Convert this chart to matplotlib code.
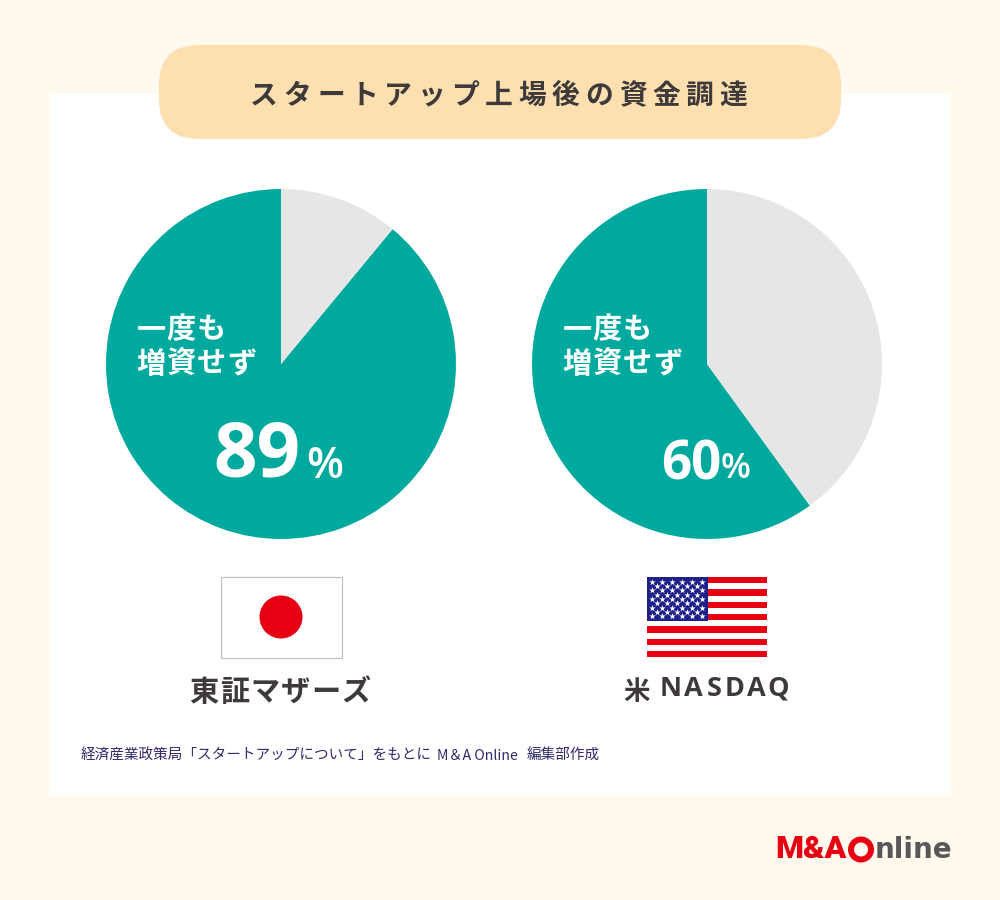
import matplotlib
matplotlib.use("Agg")
import matplotlib.pyplot as plt
from matplotlib.patches import Rectangle, Circle, FancyBboxPatch

plt.rcParams['font.family'] = ['Noto Sans CJK JP', 'DejaVu Sans']

# data
markets = ["東証マザーズ", "米", "NASDAQ"]
no_raise_pct = [89, 60]
other_pct = [11, 40]
title = "スタートアップ上場後の資金調達"
pie_label = ["一度も", "増資せず"]
source_parts = ["経済産業政策局「スタートアップについて」をもとに", "M＆A Online", "編集部作成"]

TEAL = "#00a99d"
GREY = "#e6e6e6"
DARK = "#3e3a39"
RED = "#e60012"
NAVY = "#1d2088"

fig = plt.figure(figsize=(10, 9), dpi=100, facecolor="#fff9ee")
ax = fig.add_axes([0, 0, 1, 1])
ax.set_xlim(0, 1000)
ax.set_ylim(900, 0)
ax.axis("off")


def spaced(a, x, y, s, pitch, **kw):
    # letter spacing, one character at a time
    for i, ch in enumerate(s):
        a.text(x + i * pitch, y, ch, ha="center", va="center", **kw)


# panel and title box
ax.add_patch(Rectangle((50, 94), 900, 701, fc="white", ec="none"))
ax.add_patch(FancyBboxPatch((159, 45), 682, 94,
                            boxstyle="round,pad=0,rounding_size=40", fc="#fedfb0", ec="none"))
spaced(ax, 264, 96, title, 33.5, fontsize=20, fontweight="bold", color=DARK)

# pies
centers = [281, 707]
R = 175
for cx, a, b in zip(centers, no_raise_pct, other_pct):
    pie_ax = fig.add_axes([(cx - R) / 1000, 1 - (364 + R) / 900, 2 * R / 1000, 2 * R / 900])
    pie_ax.pie([a, b], colors=[TEAL, GREY], startangle=90, counterclock=True, radius=1.0,
               wedgeprops={"linewidth": 0})
    pie_ax.set_xlim(-1, 1)
    pie_ax.set_ylim(-1, 1)
    pie_ax.patch.set_alpha(0)

top = fig.add_axes([0, 0, 1, 1], zorder=5)
top.set_xlim(0, 1000)
top.set_ylim(900, 0)
top.axis("off")
top.patch.set_alpha(0)

for cx in centers:
    spaced(top, cx - 130, 329, pie_label[0], 30.2, fontsize=21, fontweight="bold", color="white")
    spaced(top, cx - 130, 364, pie_label[1], 30.2, fontsize=21, fontweight="bold", color="white")

num_font = "Open Sans"
top.text(257, 457, str(no_raise_pct[0]), fontsize=55, fontweight="bold", color="white",
         family=num_font, ha="center", va="center")
top.text(325, 466, "%", fontsize=31, fontweight="semibold", color="white",
         family=num_font, ha="center", va="center")
top.text(691, 466, str(no_raise_pct[1]), fontsize=38, fontweight="bold", color="white",
         family=num_font, ha="center", va="center")
top.text(736, 469, "%", fontsize=25, fontweight="semibold", color="white",
         family=num_font, ha="center", va="center")

# japan flag
ax.add_patch(Rectangle((221, 577), 120.5, 80.5, fc="white", ec="#bdbdbd", lw=0.8))
ax.add_patch(Circle((281, 617), 21.5, fc=RED, ec="none"))

# us flag
fx, fy, fw = 646.5, 577, 120.5
for i in range(7):
    ax.add_patch(Rectangle((fx, fy + i * 12.33), fw, 6.2, fc=RED, ec="none"))
ax.add_patch(Rectangle((fx, fy), 61, 43.5, fc=NAVY, ec="none", zorder=3))
sx, sy = [], []
for row in range(9):
    n = 6 if row % 2 == 0 else 5
    off = 0 if row % 2 == 0 else 5
    for col in range(n):
        sx.append(fx + 5 + off + col * 10.1)
        sy.append(fy + 4.5 + row * 4.35)
ax.scatter(sx, sy, marker="*", s=24, c="white", linewidths=0, zorder=4)

# market names
spaced(ax, 204, 692, markets[0], 30.4, fontsize=21, fontweight="bold", color=DARK)
ax.text(637, 693, markets[1], fontsize=19, fontweight="bold", color=DARK, ha="center", va="center")
nasdaq_x = [671, 693.5, 714, 735, 756.5, 778]
for xp, ch in zip(nasdaq_x, markets[2]):
    ax.text(xp, 689, ch, fontsize=19.5, fontweight="bold", color=DARK,
            family="Open Sans", ha="center", va="center")

# source
src_kw = dict(fontsize=10.5, color="#2f2a6b", ha="left", va="center")
ax.text(81, 756, source_parts[0], **src_kw)
ax.text(437, 756, source_parts[1], fontsize=10.2, color="#2f2a6b", ha="left", va="center")
ax.text(527, 756, source_parts[2], **src_kw)

# logo
ax.text(775, 849, "M&A", fontsize=23, fontweight="heavy", color=RED, family="Roboto",
        ha="left", va="center")
ax.add_patch(Circle((861, 849.5), 10, fc="none", ec=RED, lw=4.3))
ax.text(875, 850, "nline", fontsize=20, fontweight="bold", color="#595757", family="DejaVu Sans",
        ha="left", va="center")

fig.savefig("out.png", dpi=100, facecolor=fig.get_facecolor())
